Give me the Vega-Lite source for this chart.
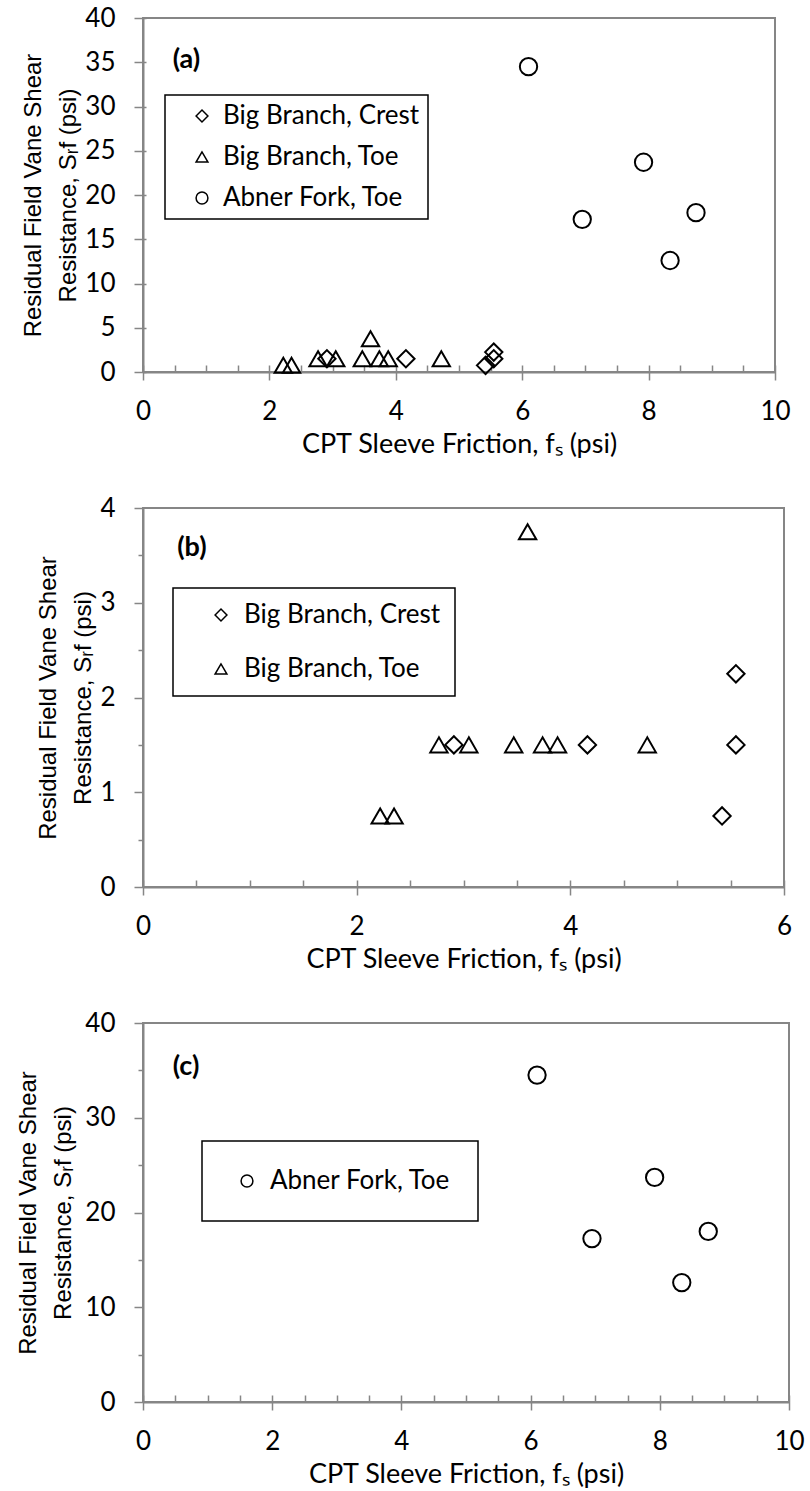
{
  "$schema": "https://vega.github.io/schema/vega-lite/v6.json",
  "background": "white",
  "padding": {"left": 15, "top": 4, "right": 0, "bottom": 0},
  "datasets": {
    "pts": [
      {"site": "Big Branch, Toe", "fs": 2.22, "srf": 0.75},
      {"site": "Big Branch, Toe", "fs": 2.35, "srf": 0.75},
      {"site": "Big Branch, Toe", "fs": 2.77, "srf": 1.5},
      {"site": "Big Branch, Toe", "fs": 3.05, "srf": 1.5},
      {"site": "Big Branch, Toe", "fs": 3.47, "srf": 1.5},
      {"site": "Big Branch, Toe", "fs": 3.6, "srf": 3.75},
      {"site": "Big Branch, Toe", "fs": 3.74, "srf": 1.5},
      {"site": "Big Branch, Toe", "fs": 3.88, "srf": 1.5},
      {"site": "Big Branch, Toe", "fs": 4.72, "srf": 1.5},
      {"site": "Big Branch, Crest", "fs": 2.91, "srf": 1.5},
      {"site": "Big Branch, Crest", "fs": 4.16, "srf": 1.5},
      {"site": "Big Branch, Crest", "fs": 5.42, "srf": 0.75},
      {"site": "Big Branch, Crest", "fs": 5.55, "srf": 2.25},
      {"site": "Big Branch, Crest", "fs": 5.55, "srf": 1.5},
      {"site": "Abner Fork, Toe", "fs": 6.1, "srf": 34.5},
      {"site": "Abner Fork, Toe", "fs": 6.95, "srf": 17.25},
      {"site": "Abner Fork, Toe", "fs": 7.92, "srf": 23.7},
      {"site": "Abner Fork, Toe", "fs": 8.34, "srf": 12.6},
      {"site": "Abner Fork, Toe", "fs": 8.75, "srf": 18.0}
    ]
  },
  "config": {
    "view": {"stroke": "#868686", "strokeWidth": 2},
    "axis": {
      "domainColor": "#868686", "domainWidth": 2,
      "tickColor": "#868686", "tickWidth": 1.5,
      "grid": false,
      "labelFont": "Lato", "labelFontSize": 26, "labelColor": "black",
      "labelOverlap": false, "labelFlush": false,
      "titleFont": "Lato", "titleFontSize": 27, "titleFontWeight": "normal", "titleColor": "black"
    },
    "axisY": {"titleFont": "Liberation Sans", "titleFontSize": 24, "titleLineHeight": 35},
    "legend": {
      "labelFont": "Lato", "labelFontSize": 26, "labelColor": "black", "labelLimit": 0,
      "strokeColor": "black", "strokeWidth": 1.5, "fillColor": "white",
      "symbolStrokeColor": "black", "symbolStrokeWidth": 1.5, "symbolSize": 140,
      "symbolFillColor": "transparent"
    }
  },
  "columns": 1,
  "align": "none",
  "spacing": 36,
  "resolve": {
    "scale": {"x": "independent", "y": "independent", "shape": "independent"},
    "legend": {"shape": "independent"}
  },
  "concat": [
    {
      "width": 632, "height": 354,
      "resolve": {"axis": {"x": "independent", "y": "independent"}},
      "layer": [
        {
          "data": {"name": "pts"},
          "mark": {"type": "point", "filled": false, "color": "black", "strokeWidth": 2, "size": 300, "opacity": 1},
          "encoding": {
            "x": {"field": "fs", "type": "quantitative",
              "scale": {"domain": [0, 10], "nice": false},
              "axis": {"values": [0, 2, 4, 6, 8, 10], "title": "CPT Sleeve Friction, fₛ (psi)", "tickSize": 8, "labelPadding": 18, "titlePadding": 7}},
            "y": {"field": "srf", "type": "quantitative",
              "scale": {"domain": [0, 40], "nice": false},
              "axis": {"values": [0, 5, 10, 15, 20, 25, 30, 35, 40], "title": ["Residual Field Vane Shear", "Resistance, Sᵣf (psi)"], "tickSize": 9, "labelPadding": 19, "titlePadding": 4}},
            "shape": {"field": "site", "type": "nominal",
              "scale": {"domain": ["Big Branch, Crest", "Big Branch, Toe", "Abner Fork, Toe"], "range": ["diamond", "triangle-up", "circle"]},
              "legend": {"title": null, "orient": "none", "legendX": 22, "legendY": 77, "padding": 8, "rowPadding": 15, "symbolOffset": 16, "labelOffset": 8}}
          }
        },
        {
          "data": {"values": [{"panel": "(a)"}]},
          "mark": {"type": "text", "font": "Lato", "fontWeight": "bold", "fontSize": 27, "align": "left", "baseline": "middle", "color": "black"},
          "encoding": {
            "x": {"datum": 0.47, "type": "quantitative", "scale": {"domain": [0, 10], "nice": false},
              "axis": {"orient": "bottom", "values": [0, 0.5, 1, 1.5, 2, 2.5, 3, 3.5, 4, 4.5, 5, 5.5, 6, 6.5, 7, 7.5, 8, 8.5, 9, 9.5, 10], "tickSize": -7, "labels": false, "domain": false, "title": null}},
            "y": {"datum": 35.3, "type": "quantitative", "scale": {"domain": [0, 40], "nice": false},
              "axis": {"orient": "left", "values": [0, 5, 10, 15, 20, 25, 30, 35, 40], "tickSize": -3, "labels": false, "domain": false, "title": null}},
            "text": {"field": "panel"}
          }
        }
      ]
    },
    {
      "width": 641, "height": 379,
      "resolve": {"axis": {"x": "independent", "y": "independent"}},
      "layer": [
        {
          "data": {"name": "pts"},
          "transform": [{"filter": "datum.site !== 'Abner Fork, Toe'"}],
          "mark": {"type": "point", "filled": false, "color": "black", "strokeWidth": 2, "size": 300, "opacity": 1},
          "encoding": {
            "x": {"field": "fs", "type": "quantitative",
              "scale": {"domain": [0, 6], "nice": false},
              "axis": {"values": [0, 2, 4, 6], "title": "CPT Sleeve Friction, fₛ (psi)", "tickSize": 8, "labelPadding": 18, "titlePadding": 7}},
            "y": {"field": "srf", "type": "quantitative",
              "scale": {"domain": [0, 4], "nice": false},
              "axis": {"values": [0, 1, 2, 3, 4], "title": ["Residual Field Vane Shear", "Resistance, Sᵣf (psi)"], "tickSize": 9, "labelPadding": 19, "titlePadding": 4}},
            "shape": {"field": "site", "type": "nominal",
              "scale": {"domain": ["Big Branch, Crest", "Big Branch, Toe"], "range": ["diamond", "triangle-up"]},
              "legend": {"title": null, "orient": "none", "legendX": 30, "legendY": 80, "padding": 14, "rowPadding": 28, "symbolOffset": 21, "labelOffset": 10}}
          }
        },
        {
          "data": {"values": [{"panel": "(b)"}]},
          "mark": {"type": "text", "font": "Lato", "fontWeight": "bold", "fontSize": 27, "align": "left", "baseline": "middle", "color": "black"},
          "encoding": {
            "x": {"datum": 0.32, "type": "quantitative", "scale": {"domain": [0, 6], "nice": false},
              "axis": {"orient": "bottom", "values": [0, 0.5, 1, 1.5, 2, 2.5, 3, 3.5, 4, 4.5, 5, 5.5, 6], "tickSize": -7, "labels": false, "domain": false, "title": null}},
            "y": {"datum": 3.58, "type": "quantitative", "scale": {"domain": [0, 4], "nice": false},
              "axis": {"orient": "left", "values": [0.5, 1.5, 2.5, 3.5], "tickSize": 5, "labels": false, "domain": false, "title": null}},
            "text": {"field": "panel"}
          }
        }
      ]
    },
    {
      "width": 646, "height": 379,
      "resolve": {"axis": {"x": "independent", "y": "independent"}},
      "layer": [
        {
          "data": {"name": "pts"},
          "transform": [{"filter": "datum.site === 'Abner Fork, Toe'"}],
          "mark": {"type": "point", "filled": false, "color": "black", "strokeWidth": 2, "size": 300, "opacity": 1},
          "encoding": {
            "x": {"field": "fs", "type": "quantitative",
              "scale": {"domain": [0, 10], "nice": false},
              "axis": {"values": [0, 2, 4, 6, 8, 10], "title": "CPT Sleeve Friction, fₛ (psi)", "tickSize": 8, "labelPadding": 18, "titlePadding": 7}},
            "y": {"field": "srf", "type": "quantitative",
              "scale": {"domain": [0, 40], "nice": false},
              "axis": {"values": [0, 10, 20, 30, 40], "title": ["Residual Field Vane Shear", "Resistance, Sᵣf (psi)"], "tickSize": 9, "labelPadding": 19, "titlePadding": 9}},
            "shape": {"field": "site", "type": "nominal",
              "scale": {"domain": ["Abner Fork, Toe"], "range": ["circle"]},
              "legend": {"title": null, "orient": "none", "legendX": 59, "legendY": 118, "padding": 27, "symbolOffset": 5, "labelOffset": 10}}
          }
        },
        {
          "data": {"values": [{"panel": "(c)"}]},
          "mark": {"type": "text", "font": "Lato", "fontWeight": "bold", "fontSize": 27, "align": "left", "baseline": "middle", "color": "black"},
          "encoding": {
            "x": {"datum": 0.46, "type": "quantitative", "scale": {"domain": [0, 10], "nice": false},
              "axis": {"orient": "bottom", "values": [0, 0.5, 1, 1.5, 2, 2.5, 3, 3.5, 4, 4.5, 5, 5.5, 6, 6.5, 7, 7.5, 8, 8.5, 9, 9.5, 10], "tickSize": -7, "labels": false, "domain": false, "title": null}},
            "y": {"datum": 35.4, "type": "quantitative", "scale": {"domain": [0, 40], "nice": false},
              "axis": {"orient": "left", "values": [5, 15, 25, 35], "tickSize": 5, "labels": false, "domain": false, "title": null}},
            "text": {"field": "panel"}
          }
        }
      ]
    }
  ]
}
